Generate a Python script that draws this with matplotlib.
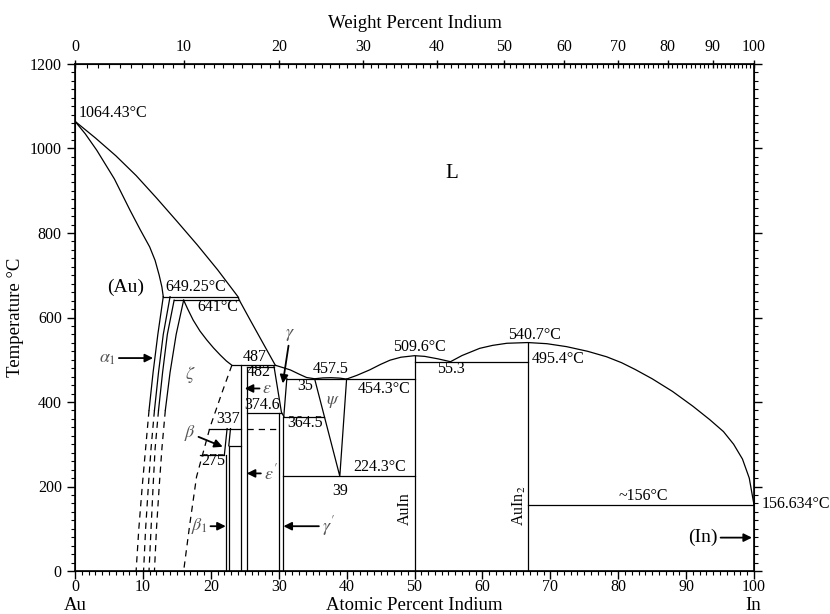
import matplotlib
matplotlib.use("Agg")
import matplotlib.pyplot as plt
import numpy as np

plt.rcParams['font.family'] = ['Liberation Serif', 'DejaVu Serif']
plt.rcParams['mathtext.fontset'] = 'stix'

# --- phase boundaries, (atomic % In, temperature °C) ---
liquidus = [(0, 1064.43), (3, 1025), (6, 983), (9, 936), (12, 883), (15, 828),
            (18, 772), (21, 713), (24.0, 649.25), (24.2, 641), (25.8, 594),
            (27.7, 539), (29.5, 487), (30.5, 482), (31.7, 476), (33, 466),
            (34.1, 458), (35.3, 455), (36.5, 457), (37.7, 457.5), (39, 456.5),
            (40.0, 454.3), (41.5, 463), (43.4, 476), (45, 489), (46.4, 499),
            (48, 506), (50, 509.6), (51.5, 508), (53.5, 502), (55.3, 495.4),
            (57, 510), (59.6, 527), (61.5, 534), (63.6, 539), (66.7, 540.7),
            (69.5, 538), (72.4, 531), (75.5, 520), (78.3, 507), (80.5, 493),
            (82.5, 477), (85, 455), (88, 425), (91, 390), (93.5, 358),
            (95.5, 330), (97, 300), (98.3, 265), (99.3, 220), (100, 156.634)]
solidus_au = [(0, 1064.43), (1.5, 1035), (3.2, 996), (5.8, 928), (8.1, 854),
              (9.6, 808), (11.0, 767), (11.8, 735), (12.4, 700), (12.8, 672),
              (13.0, 649.25)]
zeta_top = [(16.0, 641), (16.6, 620), (17.4, 594), (18.4, 568), (19.4, 547),
            (20.4, 528), (21.4, 511), (22.3, 497), (23.1, 487)]

# solvus lines on the Au side: solid part, then dashed part
solvus_solid = [
    [(13.0, 649.25), (12.2, 560), (11.5, 470), (10.9, 380)],
    [(14.0, 649.25), (13.0, 560), (12.3, 470), (11.7, 380)],
    [(14.6, 641), (13.6, 560), (12.9, 470), (12.3, 380)],
    [(16.0, 641), (14.9, 560), (14.0, 470), (13.3, 380)],
]
solvus_dashed = [
    [(10.9, 380), (10.4, 290), (9.9, 200), (9.4, 100), (9.0, 0)],
    [(11.7, 380), (11.2, 290), (10.8, 200), (10.4, 100), (10.1, 0)],
    [(12.3, 380), (11.8, 290), (11.5, 200), (11.2, 100), (10.9, 0)],
    [(13.3, 380), (12.8, 290), (12.4, 200), (12.0, 100), (11.7, 0)],
]
zeta_right = [(23.1, 487), (21.6, 420), (19.9, 341), (17.9, 223), (16.9, 110), (16.0, 0)]

# invariant lines: (x start, x end, T)
horizontals = [(13.0, 24.0, 649.25), (14.6, 24.2, 641), (23.1, 29.5, 487),
               (25.3, 29.3, 482), (25.3, 30.4, 374.6), (30.75, 36.7, 364.5),
               (19.7, 24.5, 337), (18.4, 22.0, 275), (22.65, 24.5, 296.6),
               (31.2, 50, 454.3), (30.7, 50, 224.3), (50, 66.7, 495.4),
               (66.7, 100, 156)]
dashed_h = [(25.3, 30.05, 337)]
# compound lines: (x, T bottom, T top)
verticals = [(22.2, 0, 275), (22.65, 0, 296.6), (24.5, 0, 487), (25.3, 0, 482),
             (30.05, 0, 374.6), (30.7, 0, 364.5), (50, 0, 509.6), (66.7, 0, 540.7)]
segments = [[(29.3, 485), (30.4, 376), (30.75, 366)],
            [(31.2, 456), (30.75, 366)],
            [(35.3, 454.3), (39.0, 224.3), (40.0, 454.3)],
            [(22.4, 337), (22.0, 275)],
            [(22.9, 337), (22.65, 296.6)]]

wt_ticks = np.arange(0, 101, 10)
wt_minor = np.arange(0, 101, 1)


def wt_to_at(w):
    w = np.asarray(w, dtype=float)
    a = w / 114.818
    b = (100 - w) / 196.96657
    return 100 * a / (a + b)


fig = plt.figure(figsize=(8.3, 6.14), dpi=100)
ax = fig.add_axes([75 / 830, 1 - 571 / 614, 679 / 830, 507 / 614])
ax.set_xlim(0, 100)
ax.set_ylim(0, 1200)

lw = 0.9
k = 'black'


def draw(pts, **kw):
    xs, ys = zip(*pts)
    ax.plot(xs, ys, color=k, lw=lw, **kw)


for curve in (liquidus, solidus_au, zeta_top):
    draw(curve)
for c in solvus_solid:
    draw(c)
for c in solvus_dashed:
    draw(c, ls=(0, (5, 4)))
draw(zeta_right, ls=(0, (5, 4)))
for x0, x1, t in horizontals:
    ax.plot([x0, x1], [t, t], color=k, lw=lw)
for x0, x1, t in dashed_h:
    ax.plot([x0, x1], [t, t], color=k, lw=lw, ls=(0, (5, 4)))
for x, t0, t1 in verticals:
    ax.plot([x, x], [t0, t1], color=k, lw=lw)
for s in segments:
    draw(s)

# --- labels ---
fs = 11.5
txt = [
    (0.5, 1084, '1064.43°C', 'left'), (13.3, 672, '649.25°C', 'left'),
    (18.0, 625, '641°C', 'left'), (26.4, 506, '487', 'center'),
    (27.1, 470, '482', 'center'), (27.6, 393, '374.6', 'center'),
    (33.9, 351, '364.5', 'center'), (22.6, 360, '337', 'center'),
    (20.4, 260, '275', 'center'), (33.9, 438, '35', 'center'),
    (37.7, 478, '457.5', 'center'), (45.5, 431, '454.3°C', 'center'),
    (44.9, 247, '224.3°C', 'center'), (39.0, 190, '39', 'center'),
    (50.7, 529, '509.6°C', 'center'), (55.4, 478, '55.3', 'center'),
    (67.6, 558, '540.7°C', 'center'), (71.1, 502, '495.4°C', 'center'),
    (83.7, 178, '~156°C', 'center'), (101.1, 159, '156.634°C', 'left'),
]
for x, t, s, ha in txt:
    ax.text(x, t, s, ha=ha, va='center', fontsize=fs, clip_on=False)

ax.text(55.5, 940, 'L', fontsize=15, ha='center', va='center')
ax.text(7.4, 672, '(Au)', fontsize=14, ha='center', va='center')
ax.text(48.6, 147, 'AuIn', fontsize=fs, rotation=90, ha='center', va='center')
ax.text(65.4, 154, 'AuIn$_2$', fontsize=fs, rotation=90, ha='center', va='center')

gc = '#555555'
gs = 13
ax.text(17.0, 464, r'$\zeta$', fontsize=gs, color=gc, ha='center', va='center')
ax.text(38.0, 401, r'$\psi$', fontsize=gs, color=gc, ha='center', va='center')

arrow = dict(arrowstyle='-|>', color=k, lw=1.3, mutation_scale=12, shrinkA=0, shrinkB=0)
notes = [
    (r'$\alpha_1$', (11.5, 504), (4.8, 504)),
    (r'$\varepsilon$', (25.0, 432), (28.3, 432)),
    (r'$\varepsilon^{\prime}$', (25.3, 231), (28.8, 231)),
    (r'$\beta_1$', (22.2, 106), (18.3, 106)),
    (r'$\gamma^{\prime}$', (30.7, 106), (37.3, 106)),
]
for s, xy, xyt in notes:
    ax.annotate(s, xy=xy, xytext=xyt, fontsize=gs, color=gc, ha='center', va='center',
                arrowprops=arrow)
ax.annotate(r'$\beta$', xy=(21.75, 294), xytext=(16.9, 326), fontsize=gs, color=gc,
            ha='center', va='center', arrowprops=arrow)
ax.annotate(r'$\gamma$', xy=(30.6, 444), xytext=(31.7, 560), fontsize=gs, color=gc,
            ha='center', va='center', arrowprops=arrow)
ax.annotate('(In)', xy=(99.7, 79), xytext=(92.5, 79), fontsize=14, ha='center',
            va='center', arrowprops=arrow)

# --- axes ---
for sp in ax.spines.values():
    sp.set_linewidth(1.2)
ax.set_xticks(np.arange(0, 101, 10))
ax.set_xticks(np.arange(0, 101, 1), minor=True)
ax.set_yticks(np.arange(0, 1201, 200))
ax.set_yticks(np.arange(0, 1201, 20), minor=True)
ax.tick_params(axis='both', which='major', labelsize=11.5, length=6, width=1)
ax.tick_params(axis='both', which='minor', length=3, width=0.8)
ax.tick_params(axis='y', which='both', right=True, direction='out')
ax.tick_params(axis='x', which='both', top=False, direction='out', pad=0)

ax2 = ax.twiny()
ax2.set_xlim(0, 100)
ax2.set_xticks(wt_to_at(wt_ticks))
ax2.set_xticklabels([str(w) for w in wt_ticks])
ax2.set_xticks(wt_to_at(wt_minor), minor=True)
ax2.tick_params(axis='x', which='major', labelsize=11.5, length=6, width=1,
                direction='inout')
ax2.tick_params(axis='x', which='minor', length=3, width=0.8, direction='in')

ax.set_xlabel('Atomic Percent Indium', fontsize=13.5, labelpad=1)
ax2.set_xlabel('Weight Percent Indium', fontsize=13.5, labelpad=8)
ax.set_ylabel('Temperature °C', fontsize=13.5, labelpad=4)
fig.text(75 / 830, 0.0, 'Au', fontsize=13.5, ha='center', va='bottom')
fig.text(753 / 830, 0.0, 'In', fontsize=13.5, ha='center', va='bottom')

fig.savefig('out.png', dpi=100)
